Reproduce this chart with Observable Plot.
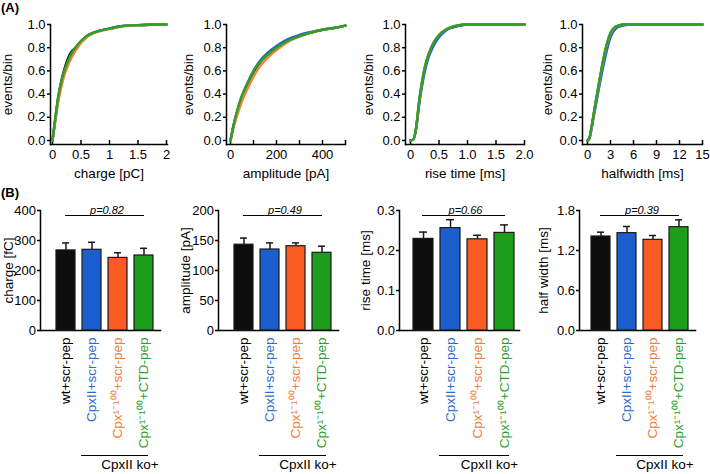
<!DOCTYPE html>
<html>
<head>
<meta charset="utf-8">
<script src="https://cdn.jsdelivr.net/npm/d3@7"></script>
<script src="https://cdn.jsdelivr.net/npm/@observablehq/plot@0.6"></script>
<style>
  html, body { margin: 0; padding: 0; background: #fff; }
  #page { position: relative; width: 710px; height: 474px; overflow: hidden; background: #fff;
          font-family: 'Liberation Sans', Arial, Helvetica, sans-serif; }
  .tag { position: absolute; font-weight: bold; font-size: 13px; color: #000; }
</style>
</head>
<body>
<div id="page">
  <div class="tag" style="left:1px;top:0px;">(A)</div>
  <div class="tag" style="left:1px;top:185px;">(B)</div>
</div>
<script>
// ---------------- data ----------------
const groups = ["wt+scr-pep", "CpxII+scr-pep", "Cpx\u00b9\u207b\u00b9\u2070\u2070+scr-pep", "Cpx\u00b9\u207b\u00b9\u2070\u2070+CTD-pep"];
const barColors = ["#0d0d0d", "#1b5fcf", "#fa5b22", "#1c9e1c"];
const lineColors = ["#111111", "#1f62c9", "#f5822e", "#2ca02c"];
const labelColors = ["#000000", "#2a6dd0", "#f07d35", "#2aa22a"];

// cumulative distributions (events/bin), series order: wt, CpxII, Cpx1-100, Cpx1-100+CTD
const chargeX   = [0, 0.05, 0.1, 0.15, 0.2, 0.25, 0.3, 0.4, 0.5, 0.6, 0.7, 0.85, 1.0, 1.2, 1.5, 2.0];
const chargeWt  = [0, 0.19, 0.37, 0.50, 0.60, 0.68, 0.74, 0.80, 0.85, 0.90, 0.925, 0.95, 0.965, 0.985, 0.995, 1.0];
const chargeScr = [0, 0.18, 0.35, 0.47, 0.57, 0.64, 0.70, 0.79, 0.85, 0.895, 0.925, 0.95, 0.965, 0.985, 0.995, 1.0];
const chargeCpx = [0, 0.17, 0.33, 0.45, 0.55, 0.62, 0.68, 0.77, 0.84, 0.89, 0.92, 0.945, 0.96, 0.98, 0.995, 1.0];
const chargeCtd = [0, 0.20, 0.38, 0.50, 0.59, 0.66, 0.72, 0.80, 0.86, 0.90, 0.925, 0.95, 0.965, 0.985, 0.995, 1.0];

const ampX   = [0, 10, 25, 50, 75, 100, 125, 150, 200, 250, 300, 350, 400, 450, 500];
const ampWt  = [0, 0.10, 0.22, 0.38, 0.49, 0.59, 0.665, 0.72, 0.80, 0.86, 0.90, 0.93, 0.955, 0.97, 0.99];
const ampScr = [0, 0.10, 0.22, 0.38, 0.50, 0.60, 0.68, 0.735, 0.815, 0.875, 0.91, 0.935, 0.955, 0.97, 0.99];
const ampCpx = [0, 0.09, 0.19, 0.34, 0.45, 0.55, 0.63, 0.69, 0.78, 0.85, 0.895, 0.93, 0.955, 0.97, 0.99];
const ampCtd = [0, 0.10, 0.23, 0.39, 0.50, 0.60, 0.67, 0.72, 0.80, 0.86, 0.90, 0.93, 0.955, 0.97, 0.99];

const riseX   = [0, 0.05, 0.1, 0.15, 0.2, 0.25, 0.3, 0.4, 0.5, 0.6, 0.7, 0.8, 1.0, 1.5, 2.0];
const riseWt  = [0, 0.01, 0.11, 0.32, 0.49, 0.62, 0.71, 0.83, 0.905, 0.945, 0.97, 0.985, 1, 1, 1];
const riseScr = [0, 0.01, 0.10, 0.30, 0.46, 0.59, 0.69, 0.81, 0.89, 0.94, 0.97, 0.985, 1, 1, 1];
const riseCpx = [0, 0.01, 0.11, 0.33, 0.50, 0.63, 0.72, 0.84, 0.91, 0.95, 0.975, 0.99, 1, 1, 1];
const riseCtd = [0, 0.01, 0.12, 0.34, 0.50, 0.63, 0.72, 0.84, 0.91, 0.95, 0.975, 0.99, 1, 1, 1];

const hwX   = [0, 0.25, 0.5, 0.75, 1, 1.5, 2, 2.5, 3, 3.5, 4, 5, 6, 10, 15];
const hwWt  = [0, 0.02, 0.10, 0.20, 0.30, 0.49, 0.67, 0.82, 0.92, 0.97, 0.99, 1, 1, 1, 1];
const hwScr = [0, 0.02, 0.09, 0.18, 0.27, 0.45, 0.62, 0.77, 0.89, 0.95, 0.98, 0.995, 1, 1, 1];
const hwCpx = [0, 0.02, 0.10, 0.20, 0.30, 0.49, 0.67, 0.82, 0.92, 0.97, 0.99, 1, 1, 1, 1];
const hwCtd = [0, 0.02, 0.11, 0.21, 0.31, 0.50, 0.68, 0.83, 0.93, 0.975, 0.99, 1, 1, 1, 1];

// means and SEM
const chargeMean = [267, 269, 242, 250];
const chargeSem  = [25, 25, 17, 24];
const ampMean = [143, 135, 140.5, 129.5];
const ampSem  = [11, 11, 5.5, 11];
const riseMean = [0.229, 0.256, 0.228, 0.244];
const riseSem  = [0.017, 0.021, 0.010, 0.020];
const hwMean = [1.41, 1.46, 1.36, 1.55];
const hwSem  = [0.065, 0.10, 0.065, 0.11];
const pLabels = ["p=0.82", "p=0.49", "p=0.66", "p=0.39"];

// ticks
const cdfYTicks = [0, 0.2, 0.4, 0.6, 0.8, 1.0];
const cdfYLabels = ["0.0", "0.2", "0.4", "0.6", "0.8", "1.0"];
const chargeXTicks = [0, 0.5, 1, 1.5, 2];
const chargeXLabels = ["0", "0.5", "1", "1.5", "2"];
const ampXTicks = [0, 100, 200, 300, 400, 500];
const ampXLabeled = [0, 200, 400];
const riseXTicks = [0, 0.5, 1, 1.5, 2];
const riseXLabels = ["0", "0.5", "1.0", "1.5", "2.0"];
const hwXTicks = [0, 3, 6, 9, 12, 15];
const hwXLabels = ["0", "3", "6", "9", "12", "15"];

const chargeYTicks = [0, 100, 200, 300, 400];
const ampYTicks = [0, 50, 100, 150, 200];
const riseYTicks = [0, 0.1, 0.2, 0.3];
const riseYLabels = ["0.0", "0.1", "0.2", "0.3"];
const hwYTicks = [0, 0.6, 1.2, 1.8];
const hwYLabels = ["0.0", "0.6", "1.2", "1.8"];

// ---------------- drawing ----------------
const FONT = "'Liberation Sans', Arial, Helvetica, sans-serif";
const page = document.getElementById("page");
function place(el, left, top) {
  el.style.position = "absolute";
  el.style.left = left + "px";
  el.style.top = top + "px";
  page.appendChild(el);
}
const fmtFrom = (ticks, labels) => d => labels[ticks.indexOf(d)];

function cdfPanel(o) {
  const H = 185, mt = 24, mb = 41;
  const data = o.series.flatMap((ys, s) => o.xs.map((x, i) => ({x, y: ys[i], s, color: lineColors[s]})));
  const frameH = H - mt - mb;
  return Plot.plot({
    width: o.width, height: H,
    marginLeft: o.ml, marginRight: o.mr, marginTop: mt, marginBottom: mb,
    x: {domain: o.xDomain, insetLeft: o.insetLeft, insetRight: o.insetRight || 0},
    y: {domain: [0, 1], insetBottom: 4},
    style: {fontFamily: FONT, fontSize: "13px", background: "transparent", overflow: "visible", maxWidth: "none"},
    marks: [
      Plot.frame({anchor: "left", stroke: "#000", strokeWidth: 1.5}),
      Plot.frame({anchor: "bottom", stroke: "#000", strokeWidth: 1.5}),
      Plot.axisY(cdfYTicks, {tickSize: 3, tickPadding: 2, tickFormat: fmtFrom(cdfYTicks, cdfYLabels), label: null, fontSize: 13, strokeWidth: 1.5}),
      Plot.tickX(o.xTicks, {x: d => d, insetTop: frameH - 4, strokeWidth: 1.5}),
      Plot.axisX(o.xLabeled, {tickSize: 0, tickPadding: 5, tickFormat: o.xFormat, label: null, fontSize: 13}),
      Plot.line(data, {x: "x", y: "y", z: "s", stroke: "color", strokeWidth: 2.4, curve: "monotone-x"}),
      Plot.text([o.xLabel], {text: d => d, frameAnchor: "bottom", lineAnchor: "middle", textAnchor: "middle", dy: 29, fontSize: 13.5}),
      Plot.text(["events/bin"], {text: d => d, frameAnchor: "left", textAnchor: "middle", lineAnchor: "middle", rotate: -90, dx: o.yLabelDx, fontSize: 13.5})
    ]
  });
}

function barPanel(o) {
  const H = 274, mt = 10, mb = 144;
  const rows = groups.map((g, i) => ({g, m: o.mean[i], e: o.sem[i], fill: barColors[i], lab: labelColors[i]}));
  const yMax = o.yTicks[o.yTicks.length - 1];
  return Plot.plot({
    width: o.width, height: H,
    marginLeft: o.ml, marginRight: o.mr, marginTop: mt, marginBottom: mb,
    x: {domain: groups, paddingInner: 0.26, paddingOuter: 0.2, insetLeft: o.insetLeft, axis: null},
    y: {domain: [0, yMax], axis: null},
    style: {fontFamily: FONT, fontSize: "13px", background: "transparent", overflow: "visible", maxWidth: "none"},
    marks: [
      Plot.frame({anchor: "left", stroke: "#000", strokeWidth: 1.5}),
      Plot.frame({anchor: "bottom", stroke: "#000", strokeWidth: 1.5}),
      Plot.axisY(o.yTicks, {anchor: "left", tickSize: 3, tickPadding: 1.5, tickFormat: o.yFormat, label: null, fontSize: 13, strokeWidth: 1.5}),
      Plot.ruleX(rows, {x: "g", y1: "m", y2: d => d.m + d.e, stroke: "#1a1a1a", strokeWidth: 1.5}),
      Plot.tickY(rows, {x: "g", y: d => d.m + d.e, insetLeft: 6, insetRight: 6, stroke: "#1a1a1a", strokeWidth: 1.5}),
      Plot.barY(rows, {x: "g", y: "m", fill: "fill", stroke: "#1a1a1a", strokeWidth: 1.2}),
      Plot.ruleY([yMax], {x1: () => groups[0], x2: () => groups[3], dy: 5, insetLeft: 9, insetRight: 9, stroke: "#000", strokeWidth: 1.2}),
      Plot.text([o.p], {x: () => groups[1], y: () => yMax, text: d => d, dx: 15, dy: 3, lineAnchor: "bottom", textAnchor: "middle", fontStyle: "italic", fontSize: 11}),
      Plot.text(rows, {x: "g", text: "g", fill: "lab", frameAnchor: "bottom", rotate: -90, textAnchor: "end", lineAnchor: "middle", dy: 7, fontSize: 13.5}),
      Plot.ruleY([0], {x1: () => groups[1], x2: () => groups[3], dy: 125, insetLeft: -1, insetRight: 5, stroke: "#000", strokeWidth: 1.2}),
      Plot.text(["CpxII ko+"], {x: () => groups[2], text: d => d, frameAnchor: "bottom", textAnchor: "middle", lineAnchor: "top", dx: 12, dy: 129, fontSize: 13.5}),
      Plot.text([o.yLabel], {text: d => d, frameAnchor: "left", textAnchor: "middle", lineAnchor: "middle", rotate: -90, dx: o.yLabelDx, fontSize: 13.5})
    ]
  });
}

// top row (A)
place(cdfPanel({width: 175, ml: 50, mr: 8, xDomain: [0, 2], insetLeft: 2, insetRight: 1,
  xs: chargeX, series: [chargeWt, chargeScr, chargeCpx, chargeCtd],
  xTicks: chargeXTicks, xLabeled: chargeXTicks, xFormat: fmtFrom(chargeXTicks, chargeXLabels),
  xLabel: "charge [pC]", yLabelDx: -43}), 0, 0);

place(cdfPanel({width: 175, ml: 51, mr: 5, xDomain: [0, 500], insetLeft: 4,
  xs: ampX, series: [ampWt, ampScr, ampCpx, ampCtd],
  xTicks: ampXTicks, xLabeled: ampXLabeled, xFormat: d => String(d),
  xLabel: "amplitude [pA]", yLabelDx: -38}), 175, 0);

place(cdfPanel({width: 180, ml: 55, mr: 6, xDomain: [0, 2], insetLeft: 5,
  xs: riseX, series: [riseWt, riseScr, riseCpx, riseCtd],
  xTicks: riseXTicks, xLabeled: riseXTicks, xFormat: fmtFrom(riseXTicks, riseXLabels),
  xLabel: "rise time [ms]", yLabelDx: -37}), 350, 0);

place(cdfPanel({width: 185, ml: 57, mr: 8, xDomain: [0, 15], insetLeft: 5,
  xs: hwX, series: [hwWt, hwScr, hwCpx, hwCtd],
  xTicks: hwXTicks, xLabeled: hwXTicks, xFormat: fmtFrom(hwXTicks, hwXLabels),
  xLabel: "halfwidth [ms]", yLabelDx: -35}), 525, 0);

// bottom row (B)
place(barPanel({width: 175, ml: 40, mr: 15, insetLeft: 9, mean: chargeMean, sem: chargeSem,
  yTicks: chargeYTicks, yFormat: d => String(d), p: pLabels[0], yLabel: "charge [fC]", yLabelDx: -32}), 0, 200);

place(barPanel({width: 175, ml: 43, mr: 12, insetLeft: 9, mean: ampMean, sem: ampSem,
  yTicks: ampYTicks, yFormat: d => String(d), p: pLabels[1], yLabel: "amplitude [pA]", yLabelDx: -33}), 175, 200);

place(barPanel({width: 175, ml: 49, mr: 6, insetLeft: 8, mean: riseMean, sem: riseSem,
  yTicks: riseYTicks, yFormat: fmtFrom(riseYTicks, riseYLabels), p: pLabels[2], yLabel: "rise time [ms]", yLabelDx: -34}), 350, 200);

place(barPanel({width: 185, ml: 54, mr: 15, insetLeft: 5, mean: hwMean, sem: hwSem,
  yTicks: hwYTicks, yFormat: fmtFrom(hwYTicks, hwYLabels), p: pLabels[3], yLabel: "half width [ms]", yLabelDx: -36}), 525, 200);
</script>
</body>
</html>
